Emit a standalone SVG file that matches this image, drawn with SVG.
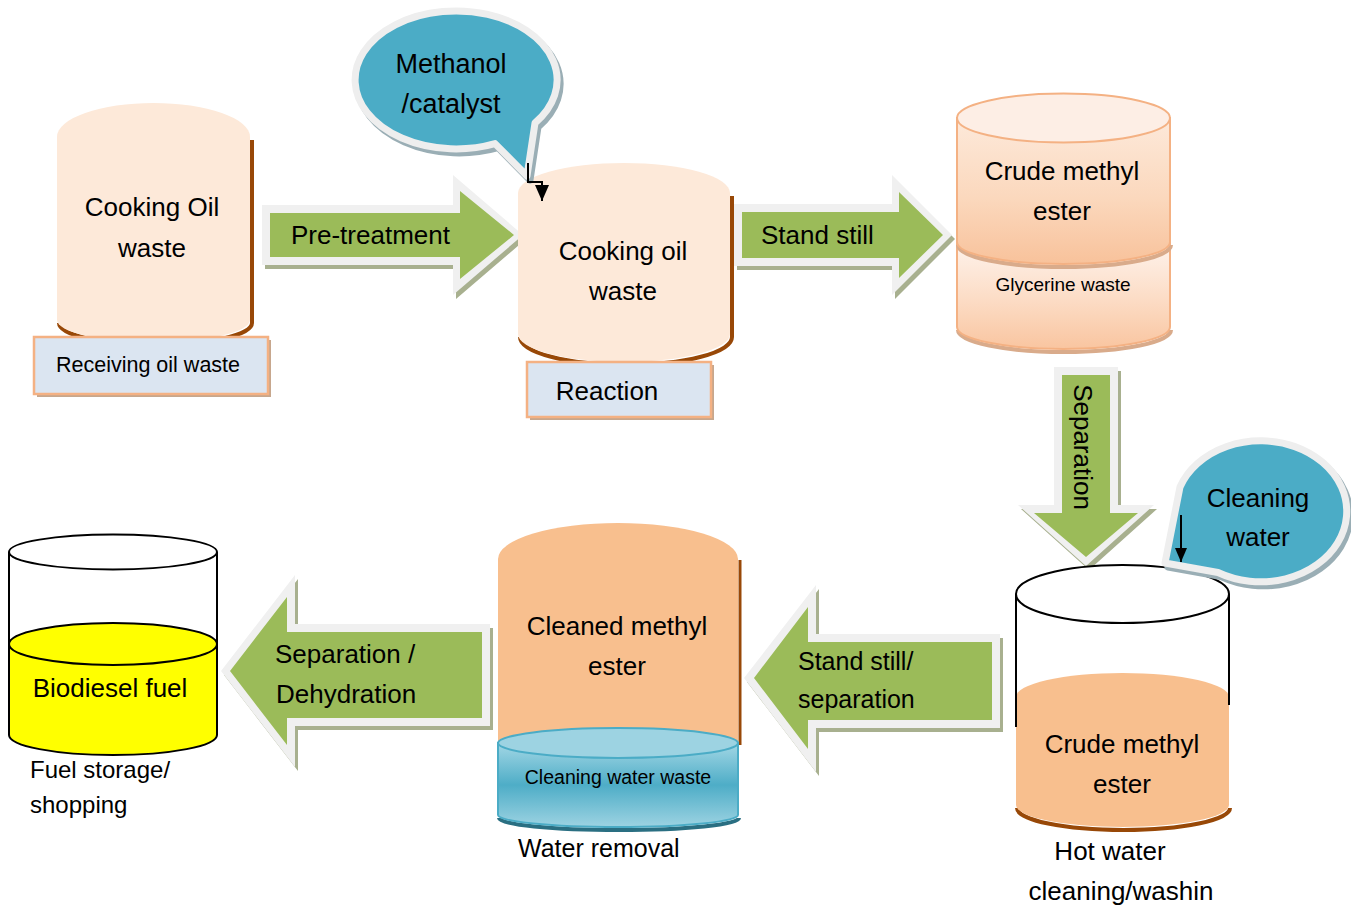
<svg xmlns="http://www.w3.org/2000/svg" width="1351" height="907" viewBox="0 0 1351 907">
<defs>
  <linearGradient id="gUp" x1="0" y1="0" x2="0" y2="1">
    <stop offset="0" stop-color="#fde9da"/>
    <stop offset="0.55" stop-color="#fbd8bd"/>
    <stop offset="1" stop-color="#f8c29b"/>
  </linearGradient>
  <linearGradient id="gLow" x1="0" y1="0" x2="0" y2="1">
    <stop offset="0" stop-color="#fef4ee"/>
    <stop offset="0.55" stop-color="#fcdcc5"/>
    <stop offset="1" stop-color="#f9c5a0"/>
  </linearGradient>
  <linearGradient id="gBlue" x1="0" y1="0" x2="0" y2="1">
    <stop offset="0" stop-color="#a3d7e5"/>
    <stop offset="0.5" stop-color="#4eadc7"/>
    <stop offset="1" stop-color="#9dd3e2"/>
  </linearGradient>
  <marker id="ahBig" viewBox="0 0 16 14" refX="16" refY="7" markerWidth="16" markerHeight="14" markerUnits="userSpaceOnUse" orient="auto">
    <path d="M0,0 L16,7 L0,14 Z" fill="#000"/>
  </marker>
  <marker id="ahSmall" viewBox="0 0 14 12" refX="14" refY="6" markerWidth="14" markerHeight="12" markerUnits="userSpaceOnUse" orient="auto">
    <path d="M0,0 L14,6 L0,12 Z" fill="#000"/>
  </marker>
  <polygon id="a1o" points="262,205 453,205 453,175 523,235 453,295 453,265 262,265"/>
  <polygon id="a2o" points="734,204 892,204 892,175 952,235 892,295 892,266 734,266"/>
  <polygon id="a3o" points="1054,367 1118,367 1118,505 1154,505 1086,566 1018,505 1054,505"/>
  <polygon id="a4o" points="1000,634 816,634 816,585 744,678 816,772 816,728 1000,728"/>
  <polygon id="a5o" points="490,624 295,624 295,575 221,671 295,767 295,726 490,726"/>
  <path id="bub1" d="M495,143.6 L527,176 L535,123 A101 69 0 1 0 495,143.6 Z"/>
  <path id="bub2" d="M1218,572.5 L1165,563 L1180,487 A86 70.5 0 1 1 1218,572.5 Z"/>
</defs>
<style>
  text { font-family: "Liberation Sans", Arial, sans-serif; fill: #000; font-size: 26px; }
  .mid { text-anchor: middle; }
  .sm { font-size: 19px; }
  .md { font-size: 21.5px; }
  .aShadow { fill: #a8b08f; }
  .aBorder { fill: #f0f0f0; }
  .aBody { fill: #9bbb59; }
  .box { fill: #dbe5f1; stroke: #f4b183; stroke-width: 2.5; }
  .boxShadow { fill: #c7a78d; }
  .pale { fill: #fde9d9; }
  .brownSh { fill: none; stroke: #984807; stroke-width: 4; }
  .peachSh { fill: none; stroke: #d9ab8b; stroke-width: 4; }
  .peachLine { stroke: #f4b183; stroke-width: 2; }
  .bubSh { fill: #9aaeb5; stroke: #9aaeb5; stroke-width: 7; stroke-linejoin: round; }
  .bub { fill: #4bacc6; stroke: #eeeeee; stroke-width: 7; stroke-linejoin: round; }
  .outline { fill: #fff; stroke: #000; stroke-width: 2; }
  .line { fill: none; stroke: #000; stroke-width: 2; }
</style>

<g id="connectors">
  <g id="arrow-pretreatment">
    <use href="#a1o" class="aShadow" transform="translate(3,4)"/>
    <use href="#a1o" class="aBorder"/>
    <polygon class="aBody" points="270,213 460,213 460,191 514,235 460,279 460,257 270,257"/>
    <text x="291" y="244">Pre-treatment</text>
  </g>
  <g id="arrow-standstill">
    <use href="#a2o" class="aShadow" transform="translate(3,4)"/>
    <use href="#a2o" class="aBorder"/>
    <polygon class="aBody" points="742,212 899,212 899,192 943,235 899,278 899,258 742,258"/>
    <text x="761" y="244">Stand still</text>
  </g>
  <g id="arrow-separation">
    <use href="#a3o" class="aShadow" transform="translate(3,4)"/>
    <use href="#a3o" class="aBorder"/>
    <polygon class="aBody" points="1062,375 1110,375 1110,513 1138,513 1086,557 1034,513 1062,513"/>
    <text class="mid" transform="translate(1074,447) rotate(90)">Separation</text>
  </g>
  <g id="arrow-standstill-separation">
    <use href="#a4o" class="aShadow" transform="translate(3,4)"/>
    <use href="#a4o" class="aBorder"/>
    <polygon class="aBody" points="992,642 808,642 808,607 754,678 808,749 808,720 992,720"/>
    <text x="798" y="670" style="font-size:25px">Stand still/</text>
    <text x="798" y="708" style="font-size:25px">separation</text>
  </g>
  <g id="arrow-dehydration">
    <use href="#a5o" class="aShadow" transform="translate(3,4)"/>
    <use href="#a5o" class="aBorder"/>
    <polygon class="aBody" points="482,632 287,632 287,597 230,671 287,745 287,718 482,718"/>
    <text x="275" y="663">Separation /</text>
    <text x="276" y="703">Dehydration</text>
  </g>
</g>

<g id="node-cooking-oil-waste">
  <path class="brownSh" transform="translate(2,3)" d="M250,137 L250,320 A96.5 22 0 0 1 57,320"/>
  <path class="pale" d="M57,137 A96.5 34 0 0 1 250,137 L250,320 A96.5 22 0 0 1 57,320 Z"/>
  <text class="mid" x="152" y="216">Cooking Oil</text>
  <text class="mid" x="152" y="257">waste</text>
</g>
<g id="node-receiving">
  <rect class="boxShadow" x="37" y="340" width="234" height="57"/>
  <rect class="box" x="34" y="337" width="234" height="57"/>
  <text class="mid md" x="148" y="372">Receiving oil waste</text>
</g>

<g id="node-reaction-tank">
  <path class="brownSh" transform="translate(2,3)" d="M730,193 L730,334 A106 28 0 0 1 518,334"/>
  <path class="pale" d="M518,193 A106 30 0 0 1 730,193 L730,334 A106 28 0 0 1 518,334 Z"/>
  <text class="mid" x="623" y="260">Cooking oil</text>
  <text class="mid" x="623" y="300">waste</text>
</g>
<g id="node-reaction">
  <rect class="boxShadow" x="530" y="365" width="184" height="55"/>
  <rect class="box" x="527" y="362" width="184" height="55"/>
  <text class="mid" x="607" y="400">Reaction</text>
</g>

<g id="node-methanol">
  <use href="#bub1" class="bubSh" transform="translate(3,4)"/>
  <use href="#bub1" class="bub"/>
  <text class="mid" x="451" y="73" style="font-size:27px">Methanol</text>
  <text class="mid" x="451" y="113" style="font-size:27px">/catalyst</text>
</g>

<g id="node-crude-glycerine">
  <path class="peachSh" transform="translate(1,3)" d="M957,327 A106.5 22 0 0 0 1170,327"/>
  <path fill="url(#gLow)" class="peachLine" d="M957,240 L957,327 A106.5 22 0 0 0 1170,327 L1170,240 Z"/>
  <path class="peachSh" transform="translate(1,3)" d="M957,242 A106.5 22 0 0 0 1170,242"/>
  <path fill="url(#gUp)" class="peachLine" d="M957,118 L957,242 A106.5 22 0 0 0 1170,242 L1170,118 Z"/>
  <ellipse cx="1063.5" cy="118" rx="106.5" ry="24.5" fill="#fdeee5" class="peachLine"/>
  <text class="mid" x="1062" y="180">Crude methyl</text>
  <text class="mid" x="1062" y="220">ester</text>
  <text class="mid sm" x="1063" y="291">Glycerine waste</text>
</g>

<g id="node-hot-water">
  <ellipse class="outline" cx="1122.5" cy="594" rx="106.5" ry="29"/>
  <path class="brownSh" transform="translate(1,3)" d="M1229,805 A106.5 22 0 0 1 1016,805"/>
  <path fill="#f8bf8e" d="M1016,697 A106.5 24 0 0 1 1229,697 L1229,805 A106.5 22 0 0 1 1016,805 Z"/>
  <line class="line" x1="1016" y1="594" x2="1016" y2="727"/>
  <line class="line" x1="1229" y1="594" x2="1229" y2="705"/>
  <text class="mid" x="1122" y="753">Crude methyl</text>
  <text class="mid" x="1122" y="793">ester</text>
  <text class="mid" x="1110" y="860">Hot water</text>
  <text class="mid" x="1121" y="900">cleaning/washin</text>
</g>

<g id="node-cleaning-water">
  <use href="#bub2" class="bubSh" transform="translate(3,4)"/>
  <use href="#bub2" class="bub"/>
  <text class="mid" x="1258" y="507">Cleaning</text>
  <text class="mid" x="1258" y="546">water</text>
</g>

<g id="node-cleaned-ester">
  <path fill="none" stroke="#984807" stroke-width="3" d="M740,560 L740,745"/>
  <path fill="#f8bf8e" d="M498,559 A120 36 0 0 1 738,559 L738,750 L498,750 Z"/>
  <path fill="none" stroke="#2a6f82" stroke-width="4" transform="translate(1,3)" d="M498,815 A120 12 0 0 0 738,815"/>
  <path fill="url(#gBlue)" stroke="#4bacc6" stroke-width="2" d="M498,743 L498,815 A120 12 0 0 0 738,815 L738,743 Z"/>
  <ellipse cx="618" cy="743" rx="120" ry="15" fill="#9dd3e2" stroke="#4bacc6" stroke-width="2"/>
  <text class="mid" x="617" y="635">Cleaned methyl</text>
  <text class="mid" x="617" y="675">ester</text>
  <text class="mid" x="618" y="784" style="font-size:19.5px">Cleaning water waste</text>
  <text x="518" y="857" style="font-size:25px">Water removal</text>
</g>

<g id="node-biodiesel">
  <ellipse class="outline" cx="113" cy="552" rx="104" ry="17.5"/>
  <line class="line" x1="9" y1="552" x2="9" y2="644"/>
  <line class="line" x1="217" y1="552" x2="217" y2="644"/>
  <path fill="#ffff00" stroke="#000" stroke-width="2" d="M9,644 L9,735 A104 20 0 0 0 217,735 L217,644 Z"/>
  <ellipse cx="113" cy="644" rx="104" ry="21" fill="#ffff00" stroke="#000" stroke-width="2"/>
  <text class="mid" x="110" y="697">Biodiesel fuel</text>
  <text x="30" y="778" style="font-size:24px">Fuel storage/</text>
  <text x="30" y="813" style="font-size:24px">shopping</text>
</g>

<g id="connector-lines">
  <polyline class="line" points="528,163 528,182 542,182 542,201" marker-end="url(#ahBig)"/>
  <line class="line" x1="1181" y1="515" x2="1181" y2="562" marker-end="url(#ahSmall)"/>
</g>
</svg>
